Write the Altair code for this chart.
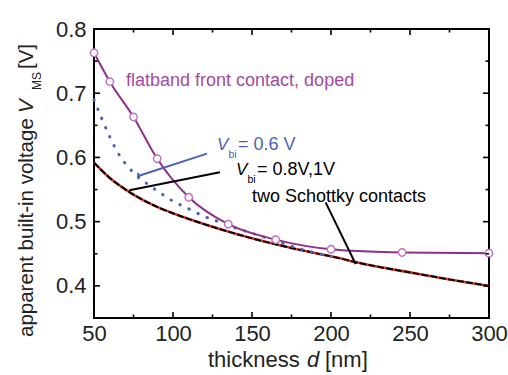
import altair as alt
import pandas as pd

# ---- data ----
d_flat = [50, 60, 75, 90, 110, 135, 165, 200, 245, 300]
v_flat = [0.763, 0.718, 0.663, 0.598, 0.538, 0.496, 0.472, 0.457, 0.452, 0.451]

d_sch = [50, 60, 70, 80, 90, 100, 125, 150, 175, 200, 225, 250, 275, 300]
v_sch = [0.592, 0.568, 0.550, 0.535, 0.523, 0.513, 0.492, 0.474, 0.459, 0.446, 0.432, 0.421, 0.410, 0.400]

d_blue = [50, 55, 60, 65, 70, 80, 90, 100, 110, 120, 130, 140, 150, 165, 180, 200]
v_blue = [0.690, 0.660, 0.632, 0.608, 0.590, 0.566, 0.548, 0.532, 0.520, 0.508, 0.499, 0.490, 0.482, 0.470, 0.458, 0.446]

# annotation pointer segments (data units)
seg_x1 = [78, 78, 72.4, 196.6]
seg_y1 = [0.566, 0.571, 0.549, 0.530]
seg_x2 = [78, 121.5, 129.7, 215.6]
seg_y2 = [0.576, 0.606, 0.577, 0.434]
seg_col = ["blue", "blue", "black", "black"]

x_major = [100, 150, 200, 250]
x_minor = [75, 125, 175, 225, 275]
y_major = [0.4, 0.5, 0.6, 0.7]
y_minor = [0.45, 0.55, 0.65, 0.75]
x_labels = [50, 100, 150, 200, 250, 300]
y_labels = [0.4, 0.5, 0.6, 0.7, 0.8]

FONT = "Liberation Sans"
PURPLE = "#8e2f8e"
PURPLE_T = "#a24aa2"
CIRC = "#c070c0"
BLUE = "#4a63b3"
RED = "#e8362c"
W, H = 395, 289

xs = alt.Scale(domain=[50, 300], nice=False, zero=False)
ys = alt.Scale(domain=[0.35, 0.8], nice=False, zero=False)

xaxis = alt.Axis(values=x_labels, format="d", title=None, ticks=False, grid=False, domain=False,
                 labelFontSize=22, labelFont=FONT, labelColor="#222", labelPadding=5,
                 labelFlush=False, labelOverlap=False)
yaxis = alt.Axis(values=y_labels, format=".1f", title=None, ticks=False, grid=False, domain=False,
                 labelFontSize=22, labelFont=FONT, labelColor="#222", labelPadding=8,
                 labelFlush=False, labelOverlap=False)


def X(f):
    return alt.X(f, type="quantitative", scale=xs, axis=xaxis)


def Y(f):
    return alt.Y(f, type="quantitative", scale=ys, axis=yaxis)


flat = pd.DataFrame({"d": d_flat, "v": v_flat})
sch = pd.DataFrame({"d": d_sch, "v": v_sch})
blue = pd.DataFrame({"d": d_blue, "v": v_blue})
segs = pd.DataFrame({"x1": seg_x1, "y1": seg_y1, "x2": seg_x2, "y2": seg_y2, "c": seg_col})

layers = []

# curves
layers.append(alt.Chart(sch).mark_line(color=RED, strokeWidth=2.6, interpolate="monotone").encode(x=X("d"), y=Y("v")))
layers.append(alt.Chart(sch).mark_line(color="black", strokeWidth=2, strokeDash=[7, 2], interpolate="monotone").encode(x=X("d"), y=Y("v")))
layers.append(alt.Chart(blue).mark_line(color=BLUE, strokeWidth=3, strokeDash=[0.5, 9.5], strokeCap="round",
                                         interpolate="monotone").encode(x=X("d"), y=Y("v")))
layers.append(alt.Chart(flat).mark_line(color=PURPLE, strokeWidth=2, interpolate="monotone").encode(x=X("d"), y=Y("v")))
layers.append(alt.Chart(flat).mark_point(shape="circle", filled=False, fill="white", fillOpacity=1, opacity=1,
                                          stroke=CIRC, strokeWidth=1.4, size=55).encode(x=X("d"), y=Y("v")))

# annotation pointers
layers.append(alt.Chart(segs).mark_rule(strokeWidth=2).encode(
    x=X("x1"), y=Y("y1"), x2="x2", y2="y2",
    color=alt.Color("c:N", scale=alt.Scale(domain=["blue", "black"], range=[BLUE, "black"]), legend=None)))

# inward ticks
def xt(vals, y0, y1):
    return alt.Chart(pd.DataFrame({"t": vals})).mark_rule(color="black", strokeWidth=1.6).encode(
        x=X("t"), y=alt.value(y0), y2=alt.value(y1))


def yt(vals, x0, x1):
    return alt.Chart(pd.DataFrame({"t": vals})).mark_rule(color="black", strokeWidth=1.6).encode(
        y=Y("t"), x=alt.value(x0), x2=alt.value(x1))


layers += [xt(x_major, H, H - 6), xt(x_minor, H, H - 3.5), xt(x_major, 0, 6), xt(x_minor, 0, 3.5),
           yt(y_major, 0, 6), yt(y_minor, 0, 3.5), yt(y_major, W, W - 6), yt(y_minor, W, W - 3.5)]


def txt(s, x, y, size, color="#222", italic=False, angle=None, align="left", baseline="alphabetic"):
    kw = dict(text=s, fontSize=size, font=FONT, color=color, align=align, baseline=baseline)
    if italic:
        kw["fontStyle"] = "italic"
    if angle is not None:
        kw["angle"] = angle
    return alt.Chart(alt.Data(values=[{"a": 1}])).mark_text(**kw).encode(x=alt.value(x), y=alt.value(y))


# in-plot texts
layers.append(txt("flatband front contact, doped", 32, 57, 18, PURPLE_T))
layers.append(txt("V", 123, 121, 17, BLUE, italic=True))
layers.append(txt("bi", 134.5, 129, 10.5, BLUE))
layers.append(txt("= 0.6 V", 144, 121, 18, BLUE))
layers.append(txt("V", 142, 146, 17, "black", italic=True))
layers.append(txt("bi", 153.5, 153.5, 10.5, "black"))
layers.append(txt("= 0.8V,1V", 163, 146, 18, "black"))
layers.append(txt("two Schottky contacts", 158, 172.5, 18, "black"))

# axis titles
layers.append(txt("thickness", 114, 338, 22))
layers.append(txt("d", 213, 338, 22, italic=True))
layers.append(txt("[nm]", 231, 338, 22))

layers.append(txt("apparent built-in voltage", -61, 308, 20.5, angle=270))
layers.append(txt("V", -61, 84, 20.5, italic=True, angle=270))
layers.append(txt("MS", -53, 61, 12, angle=270))
layers.append(txt("[V]", -61, 40, 20.5, angle=270))

chart = alt.layer(*layers).properties(
    width=W, height=H,
    autosize=alt.AutoSizeParams(type="none"),
    padding={"left": 94, "top": 29, "right": 19, "bottom": 57},
    background="white",
).configure_view(stroke="black", strokeWidth=2)

chart.save("out.html", embed_options={"renderer": "svg", "actions": False})
